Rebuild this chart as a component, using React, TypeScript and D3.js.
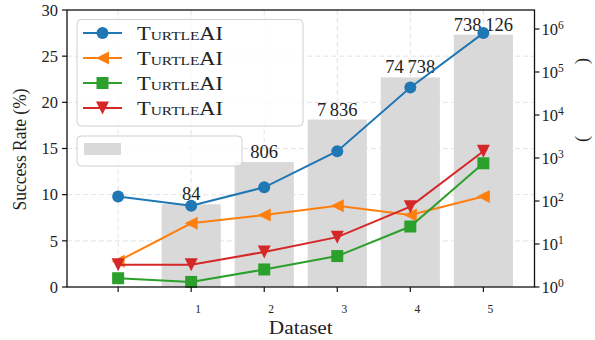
import * as d3 from "d3";
import React from "react";

// data
const positions = [0, 1, 2, 3, 4, 5];
const tickLabels = ["", "1", "2", "3", "4", "5"];
const barPositions = [1, 2, 3, 4, 5];
const barCounts = [84, 806, 7836, 74738, 738126];
const seriesNames = ["TurtleAI", "TurtleAI", "TurtleAI", "TurtleAI"];
const blueRate = [9.8, 8.8, 10.8, 14.7, 21.6, 27.5];
const orangeRate = [2.8, 6.9, 7.8, 8.8, 7.8, 9.8];
const greenRate = [0.95, 0.55, 1.9, 3.35, 6.55, 13.4];
const redRate = [2.4, 2.4, 3.8, 5.4, 8.7, 14.7];
const leftTicks = [0, 5, 10, 15, 20, 25, 30];
const rightExps = [0, 1, 2, 3, 4, 5, 6];

const W = 595;
const H = 340;
const margin = { top: 10, right: 60.5, bottom: 53, left: 67 };
const FONT = "'Liberation Serif', 'DejaVu Serif', serif";

const series = [
  { name: seriesNames[0], values: blueRate, color: "#1f77b4", marker: "circle" },
  { name: seriesNames[1], values: orangeRate, color: "#ff7f0e", marker: "left" },
  { name: seriesNames[2], values: greenRate, color: "#2ca02c", marker: "square" },
  { name: seriesNames[3], values: redRate, color: "#d62728", marker: "down" },
];

function Marker({ kind, x, y, color }: { kind: string; x: number; y: number; color: string }) {
  const s = 6.5;
  if (kind === "circle") return <circle cx={x} cy={y} r={6} fill={color} />;
  if (kind === "square") return <rect x={x - 6} y={y - 6} width={12} height={12} fill={color} />;
  if (kind === "left")
    return <path d={`M${x - s},${y} L${x + s},${y - s} L${x + s},${y + s} Z`} fill={color} />;
  return <path d={`M${x - s},${y - s} L${x + s},${y - s} L${x},${y + s} Z`} fill={color} />;
}

export default function App() {
  const iw = W - margin.left - margin.right;
  const ih = H - margin.top - margin.bottom;
  const x0 = margin.left;
  const y0 = margin.top;

  const x = d3.scaleLinear().domain([-0.7, 5.7]).range([x0, x0 + iw]);
  const y = d3.scaleLinear().domain([0, 30]).range([y0 + ih, y0]);
  const yr = d3.scaleLog().domain([1, Math.pow(10, 6 + 19 / 43)]).range([y0 + ih, y0]);

  const bw = 0.81 * (x(1) - x(0));
  const fmt = (v: number) => d3.format(",")(v).replace(/,/g, "\u2009");

  const line = (vals: number[]) =>
    d3.line<number>().x((_, i) => x(positions[i])).y((d) => y(d))(vals) || "";

  return (
    <svg width={W} height={H} style={{ position: "absolute", left: 0, top: 0 }} fontFamily={FONT}>
      <rect width={W} height={H} fill="white" />

      {/* grid */}
      {positions.map((p) => (
        <line key={"gx" + p} x1={x(p)} x2={x(p)} y1={y0} y2={y0 + ih} stroke="#e3e3e3" strokeDasharray="5,3" />
      ))}
      {leftTicks.slice(1, -1).map((t) => (
        <line key={"gy" + t} x1={x0} x2={x0 + iw} y1={y(t)} y2={y(t)} stroke="#e3e3e3" strokeDasharray="5,3" />
      ))}

      {/* bars on log axis */}
      {barPositions.map((p, i) => (
        <g key={"b" + p}>
          <rect x={x(p) - bw / 2} width={bw} y={yr(barCounts[i])} height={yr(1) - yr(barCounts[i])} fill="#d9d9d9" />
          <text x={x(p)} y={yr(barCounts[i]) - 4} textAnchor="middle" fontSize={18.5} fill="#222">
            {fmt(barCounts[i])}
          </text>
        </g>
      ))}

      {/* lines */}
      {series.map((s, k) => (
        <g key={"s" + k}>
          <path d={line(s.values)} fill="none" stroke={s.color} strokeWidth={2} />
          {s.values.map((v, i) => (
            <Marker key={i} kind={s.marker} x={x(positions[i])} y={y(v)} color={s.color} />
          ))}
        </g>
      ))}

      {/* frame */}
      <rect x={x0} y={y0} width={iw} height={ih} fill="none" stroke="#111" strokeWidth={1.3} />

      {/* left axis */}
      {leftTicks.map((t) => (
        <g key={"lt" + t}>
          <line x1={x0 - 5} x2={x0} y1={y(t)} y2={y(t)} stroke="#111" strokeWidth={1.2} />
          <text x={x0 - 9} y={y(t)} dy="0.35em" textAnchor="end" fontSize={16.5} fill="#222">
            {t}
          </text>
        </g>
      ))}
      <text
        transform={`translate(26,${y0 + ih / 2 + 1}) rotate(-90)`}
        textAnchor="middle"
        fontSize={18.5}
        textLength={122}
        lengthAdjust="spacingAndGlyphs"
        fill="#222"
      >
        Success Rate (%)
      </text>

      {/* right axis */}
      {rightExps.map((e) => (
        <g key={"rt" + e}>
          <line x1={x0 + iw} x2={x0 + iw + 5} y1={yr(Math.pow(10, e))} y2={yr(Math.pow(10, e))} stroke="#111" strokeWidth={1.2} />
          <text x={x0 + iw + 7} y={yr(Math.pow(10, e))} dy="0.38em" fontSize={16.5} fill="#222">
            10
            <tspan dy="-0.55em" fontSize={11.5}>{e}</tspan>
          </text>
        </g>
      ))}
      <text transform={`translate(588,100) rotate(-90)`} textAnchor="middle" fontSize={18} fill="#222">
        {"(\u2003\u2003\u2003\u2003)"}
      </text>

      {/* bottom axis */}
      {positions.map((p, i) => (
        <g key={"xt" + p}>
          <line x1={x(p)} x2={x(p)} y1={y0 + ih} y2={y0 + ih + 5} stroke="#111" strokeWidth={1.2} />
          <text x={x(p) + 7} y={y0 + ih + 26} textAnchor="middle" fontSize={11.5} fill="#222">
            {tickLabels[i]}
          </text>
        </g>
      ))}
      <text
        x={x0 + iw / 2}
        y={334}
        textAnchor="middle"
        fontSize={19}
        textLength={64}
        lengthAdjust="spacingAndGlyphs"
        fill="#222"
      >
        Dataset
      </text>

      {/* legend */}
      <rect x={77} y={19.5} width={226} height={106.5} rx={4} fill="white" fillOpacity={0.8} stroke="#d0d0d0" />
      {series.map((s, k) => {
        const ly = 33 + k * 25;
        return (
          <g key={"lg" + k}>
            <line x1={83} x2={122} y1={ly} y2={ly} stroke={s.color} strokeWidth={2} />
            <Marker kind={s.marker} x={102.5} y={ly} color={s.color} />
            <text
              x={137}
              y={ly}
              dy="0.35em"
              fontSize={19}
              fontVariant="small-caps"
              textLength={86}
              lengthAdjust="spacingAndGlyphs"
              fill="#222"
            >
              {s.name}
            </text>
          </g>
        );
      })}
      <rect x={77} y={136} width={165} height={30} rx={4} fill="white" fillOpacity={0.8} stroke="#d0d0d0" />
      <rect x={84} y={143} width={37} height={12} fill="#d9d9d9" />
    </svg>
  );
}
